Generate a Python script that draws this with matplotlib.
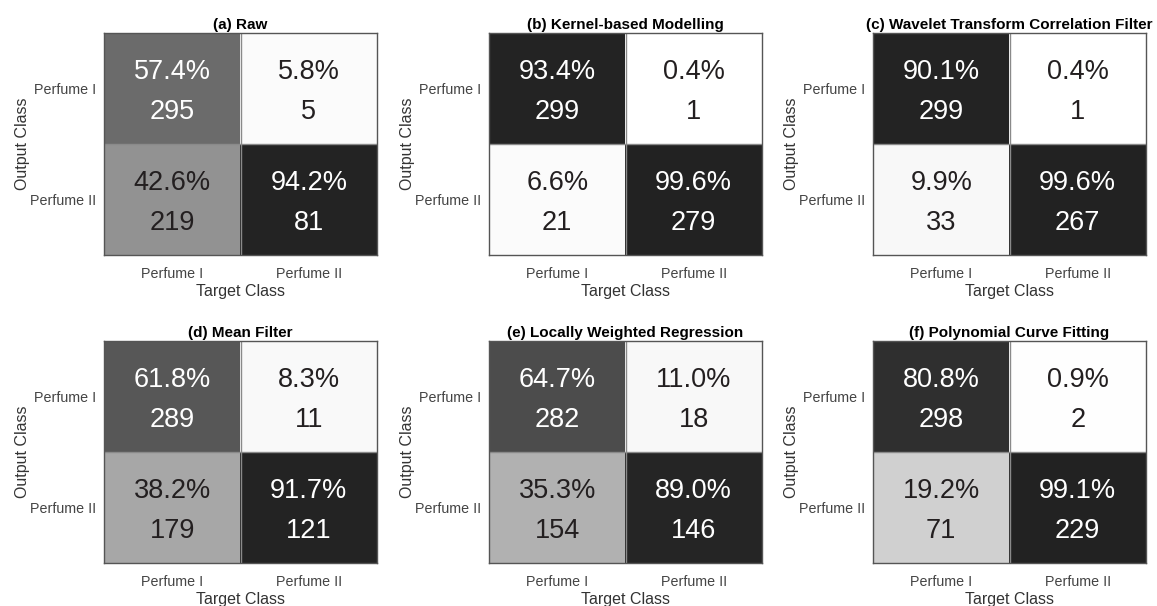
import matplotlib
matplotlib.use('Agg')
import matplotlib.pyplot as plt
import numpy as np
from matplotlib.colors import LinearSegmentedColormap

plt.rcParams['font.family'] = ['Liberation Sans', 'DejaVu Sans']

classes = ['Perfume I', 'Perfume II']
titles = ['(a) Raw', '(b) Kernel-based Modelling', '(c) Wavelet Transform Correlation Filter',
          '(d) Mean Filter', '(e) Locally Weighted Regression', '(f) Polynomial Curve Fitting']

# rows = output class, columns = target class
raw = [[295, 5], [219, 81]]
kernel = [[299, 1], [21, 279]]
wavelet = [[299, 1], [33, 267]]
mean_filter = [[289, 11], [179, 121]]
loess = [[282, 18], [154, 146]]
poly_fit = [[298, 2], [71, 229]]
matrices = [raw, kernel, wavelet, mean_filter, loess, poly_fit]

# grey ramp: white for small shares, near black for large ones
nodes = [0.0, 0.11, 0.192, 0.353, 0.382, 0.426, 0.574, 0.618, 0.647, 0.808, 0.90, 1.0]
greys = [255, 248, 209, 177, 167, 147, 107, 88, 77, 47, 36, 34]
cmap = LinearSegmentedColormap.from_list(
    'grey_cm', [(p, (g / 255, g / 255, g / 255)) for p, g in zip(nodes, greys)])

dark = '#231f20'
fig = plt.figure(figsize=(11.57, 6.06), dpi=100)
lefts = [104, 489, 873]
tops = [33, 341]
W, H = 273, 222

for i, (mat, title) in enumerate(zip(matrices, titles)):
    r, c = divmod(i, 3)
    ax = fig.add_axes([lefts[c] / 1157, 1 - (tops[r] + H) / 606, W / 1157, H / 606])
    counts = np.array(mat, dtype=float)
    pct = counts / counts.sum(axis=0) * 100
    ax.imshow(pct, cmap=cmap, vmin=0, vmax=100, aspect='auto')
    for yy in range(2):
        for xx in range(2):
            col = 'white' if pct[yy, xx] > 50 else dark
            ax.text(xx, yy - 0.15, f'{pct[yy, xx]:.1f}%', ha='center', va='center',
                    fontsize=19.5, color=col)
            ax.text(xx, yy + 0.21, f'{int(counts[yy, xx])}', ha='center', va='center',
                    fontsize=19.5, color=col)
    ax.axhline(0.5, color='#8a8a8a', lw=1)
    ax.axvline(0.5, color='#8a8a8a', lw=1)
    ax.set_xticks([0, 1])
    ax.set_yticks([0, 1])
    ax.set_xticklabels(classes, fontsize=10.3, color='#444444')
    ax.set_yticklabels(classes, fontsize=10.3, color='#444444')
    ax.tick_params(length=0, pad=9)
    ax.tick_params(axis='y', pad=6)
    ax.set_xlabel('Target Class', fontsize=11.5, color='#333333', labelpad=2)
    ax.set_ylabel('Output Class', fontsize=11.5, color='#333333', labelpad=0)
    ax.set_title(title, fontsize=11, fontweight='bold', pad=3)
    for s in ax.spines.values():
        s.set_color('#555555')
        s.set_linewidth(1)

fig.savefig('out.png', dpi=100)
